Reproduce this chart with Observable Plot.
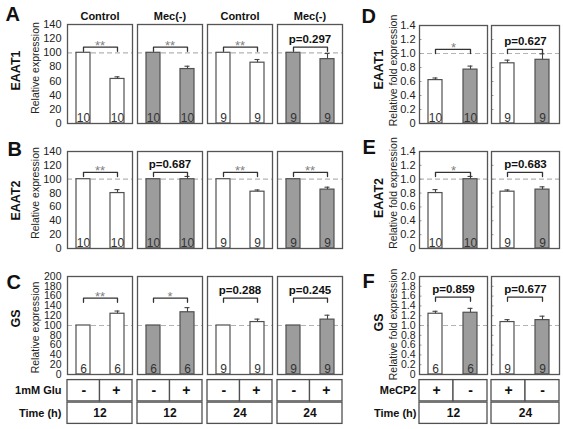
<!DOCTYPE html>
<html><head><meta charset="utf-8">
<script src="https://cdn.jsdelivr.net/npm/d3@7"></script>
<script src="https://cdn.jsdelivr.net/npm/@observablehq/plot@0.6"></script>
<style>
body{margin:0;background:#fff;}
#root{position:relative;width:563px;height:429px;overflow:hidden;background:#fff;}
</style></head><body><div id="root"></div>
<script>
// ---------- data ----------
const leftColumnKeys = ["c12", "m12", "c24", "m24"];
const leftColumnNames = ["Control", "Mec(-)", "Control", "Mec(-)"];
const leftTimes = ["12", "12", "24", "24"];
const gluLevels = ["-", "+"];
const leftGenes = ["EAAT1", "EAAT2", "GS"];
const leftLetters = ["A", "B", "C"];

const eaat1Values = [[100, 63], [100, 77], [100, 86], [100, 91]];
const eaat1Errors = [[0, 3], [0, 4], [0, 4.5], [0, 8]];
const eaat1Counts = [[10, 10], [10, 10], [9, 9], [9, 9]];
const eaat1Labels = ["**", "**", "**", "p=0.297"];

const eaat2Values = [[100, 80], [100, 100], [100, 82], [100, 85]];
const eaat2Errors = [[0, 5], [0, 4], [0, 2.5], [0, 3.5]];
const eaat2Counts = [[10, 10], [10, 10], [9, 9], [9, 9]];
const eaat2Labels = ["**", "p=0.687", "**", "**"];

const gsValues = [[100, 124], [100, 127], [100, 107], [100, 112]];
const gsErrors = [[0, 5.5], [0, 9.5], [0, 6], [0, 9]];
const gsCounts = [[6, 6], [6, 6], [9, 9], [9, 9]];
const gsLabels = ["**", "*", "p=0.288", "p=0.245"];

const leftBracketLevels = [108, 110, 156];
const leftYMax = [140, 140, 200];
const leftYTicks140 = [0, 20, 40, 60, 80, 100, 120, 140];
const leftYTicks200 = [0, 20, 40, 60, 80, 100, 120, 140, 160, 180, 200];

const rightColumnKeys = ["12", "24"];
const rightTimes = ["12", "24"];
const mecp2Levels = ["+", "-"];
const rightLetters = ["D", "E", "F"];

const eaat1FoldValues = [[0.62, 0.77], [0.86, 0.91]];
const eaat1FoldErrors = [[0.03, 0.05], [0.045, 0.085]];
const eaat1FoldCounts = [[10, 10], [9, 9]];
const eaat1FoldLabels = ["*", "p=0.627"];

const eaat2FoldValues = [[0.80, 1.00], [0.82, 0.85]];
const eaat2FoldErrors = [[0.05, 0.04], [0.025, 0.04]];
const eaat2FoldCounts = [[10, 10], [9, 9]];
const eaat2FoldLabels = ["*", "p=0.683"];

const gsFoldValues = [[1.24, 1.26], [1.07, 1.11]];
const gsFoldErrors = [[0.05, 0.09], [0.05, 0.08]];
const gsFoldCounts = [[6, 6], [9, 9]];
const gsFoldLabels = ["p=0.859", "p=0.677"];

const rightBracketLevels = [1.06, 1.10, 1.58];
const rightYMax = [1.4, 1.4, 2.0];
const rightYTicks14 = [0, 0.2, 0.4, 0.6, 0.8, 1.0, 1.2, 1.4];
const rightYTicks20 = [0, 0.2, 0.4, 0.6, 0.8, 1.0, 1.2, 1.4, 1.6, 1.8, 2.0];

// ---------- drawing ----------
const FONT = "Arial, 'Liberation Sans', Helvetica, sans-serif";
const root = document.getElementById("root");
function place(svg, left, top) {
  svg.style.position = "absolute";
  svg.style.left = left + "px";
  svg.style.top = top + "px";
  root.appendChild(svg);
}
function styleFor(fs) {
  return {fontFamily: FONT, fontSize: fs + "px", background: "none", color: "#222", overflow: "visible"};
}

function chartRow(cfg) {
  const keys = cfg.keys;
  const rows = [];
  keys.forEach((k, i) => cfg.values[i].forEach((v, j) => rows.push({
    col: k, bar: j, value: v, err: cfg.errors[i][j], n: String(cfg.counts[i][j]), fill: cfg.fillOf(i, j)
  })));
  const errRows = rows.filter(d => d.err > 0);
  const boxH = cfg.height - cfg.marginTop - cfg.marginBottom;
  const tick = cfg.bracketTickPx * cfg.yMax / boxH;
  const bracketPts = [];
  keys.forEach(k => {
    bracketPts.push({col: k, bar: 0, y: cfg.bracket - tick}, {col: k, bar: 0, y: cfg.bracket},
                    {col: k, bar: 1, y: cfg.bracket}, {col: k, bar: 1, y: cfg.bracket - tick});
  });
  const sig = keys.map((k, i) => ({col: k, label: cfg.labels[i], y: cfg.bracket}));
  const pRows = sig.filter(d => d.label.startsWith("p"));
  const starRows = sig.filter(d => !d.label.startsWith("p"));
  const first = [{col: keys[0]}];
  const marks = [
    Plot.ruleY([cfg.ref], {stroke: "#b4b4b4", strokeWidth: 1.2, strokeDasharray: "5,3"}),
  ];
  if (cfg.innerTicks) {
    marks.push(Plot.tickY(cfg.yTicks.slice(1, -1), {y: d => d, stroke: "#999", strokeWidth: 1, insetRight: cfg.boxW - 3}));
  }
  marks.push(
    Plot.barY(rows, {fx: "col", x: "bar", y: "value", fill: "fill", stroke: "#505050", strokeWidth: 1.2}),
    Plot.ruleX(errRows, {fx: "col", x: "bar", y1: "value", y2: d => d.value + d.err, stroke: "#444", strokeWidth: 1.1}),
    Plot.tickY(errRows, {fx: "col", x: "bar", y: d => d.value + d.err, stroke: "#444", strokeWidth: 1.1, insetLeft: 4.5, insetRight: 4.5}),
    Plot.line(bracketPts, {fx: "col", x: "bar", y: "y", z: "col", stroke: "#333", strokeWidth: 1.3}),
    Plot.text(pRows, {fx: "col", y: "y", text: "label", lineAnchor: "bottom", dy: -4, fontWeight: "bold", fontSize: 11.5, fill: "#111"}),
    Plot.text(starRows, {fx: "col", y: "y", text: "label", lineAnchor: "bottom", dy: 3, fontSize: 13, fill: "#808080"}),
    Plot.text(rows, {fx: "col", x: "bar", y: 0, text: "n", lineAnchor: "bottom", dy: -2, fontSize: 12, fill: "#333"}),
    Plot.frame({stroke: "#555", strokeWidth: 1.3}),
    Plot.text(first, {fx: "col", text: () => cfg.gene, frameAnchor: "left", textAnchor: "middle", rotate: -90, dx: cfg.geneDx, dy: cfg.geneDy, fontWeight: "bold", fontSize: 12.5, fill: "#111"}),
    Plot.text(first, {fx: "col", text: () => cfg.yLabel, frameAnchor: "left", textAnchor: "middle", rotate: -90, dx: cfg.yLabelDx, dy: cfg.yLabelDy, fontSize: 10.5, fill: "#222"}),
    Plot.text(first, {fx: "col", text: () => cfg.letter, frameAnchor: "top-left", textAnchor: "start", lineAnchor: "bottom", dx: cfg.letterDx, dy: cfg.letterDy, fontWeight: "bold", fontSize: 20, fill: "#111"})
  );
  if (cfg.headers) {
    const hdr = keys.map((k, i) => ({col: k, name: cfg.headers[i]}));
    marks.push(Plot.text(hdr, {fx: "col", text: "name", frameAnchor: "top", lineAnchor: "bottom", dy: -5, fontWeight: "bold", fontSize: 11, fill: "#111"}));
  }
  const svg = Plot.plot({
    width: cfg.width, height: cfg.height,
    marginLeft: cfg.marginLeft, marginRight: cfg.marginRight, marginTop: cfg.marginTop, marginBottom: cfg.marginBottom,
    style: styleFor(cfg.tickFont),
    fx: {domain: keys, paddingInner: cfg.fxPad, paddingOuter: 0, axis: null, label: null},
    x: {type: "band", domain: [0, 1], paddingInner: 0.59, paddingOuter: 0.25, axis: null},
    y: {domain: [0, cfg.yMax], ticks: cfg.yTicks, tickFormat: cfg.tickFormat, tickSize: 0, tickPadding: cfg.tickPadding, label: null},
    color: {domain: ["open", "filled"], range: ["#ffffff", "#9c9c9c"]},
    marks
  });
  place(svg, cfg.left, cfg.top);
}

function tableRow(cfg) {
  const keys = cfg.keys;
  const cells = [];
  keys.forEach((k, i) => {
    cfg.levels.forEach((lv, j) => cells.push({col: k, x1: j, x2: j + 1, y1: 0, y2: 1, t: lv, big: true}));
    cells.push({col: k, x1: 0, x2: 2, y1: 1, y2: 2, t: cfg.times[i], big: false});
  });
  const rowLabels = [{col: keys[0], y: 0.5, t: cfg.rowLabels[0]}, {col: keys[0], y: 1.5, t: cfg.rowLabels[1]}];
  const svg = Plot.plot({
    width: cfg.width, height: cfg.height,
    marginLeft: cfg.marginLeft, marginRight: cfg.marginRight, marginTop: cfg.marginTop, marginBottom: cfg.marginBottom,
    style: styleFor(10.5),
    fx: {domain: keys, paddingInner: cfg.fxPad, paddingOuter: 0, axis: null, label: null},
    x: {domain: [0, 2], axis: null},
    y: {domain: [0, 2], range: [cfg.marginTop, cfg.height - cfg.marginBottom], axis: null},
    marks: [
      Plot.rect(cells, {fx: "col", x1: "x1", x2: "x2", y1: "y1", y2: "y2", fill: "white", stroke: "#505050", strokeWidth: 1.3, insetTop: 0.6, insetBottom: 0.6}),
      Plot.text(cells.filter(d => d.big), {fx: "col", x: d => (d.x1 + d.x2) / 2, y: d => (d.y1 + d.y2) / 2, text: "t", fontWeight: "bold", fontSize: 14, fill: "#111"}),
      Plot.text(cells.filter(d => !d.big), {fx: "col", x: d => (d.x1 + d.x2) / 2, y: d => (d.y1 + d.y2) / 2, text: "t", fontWeight: "bold", fontSize: 12, fill: "#111"}),
      Plot.text(rowLabels, {fx: "col", x: 0, y: "y", text: "t", textAnchor: "end", dx: cfg.labelDx, fontWeight: "bold", fontSize: 11, fill: "#111"})
    ]
  });
  place(svg, cfg.left, cfg.top);
}

const fmtLeft = d => String(d);
const fmtRight = d => d === 0 ? "0" : d.toFixed(1);

// left block
const leftGeom = [
  {top: 0, marginTop: 24, height: 131, marginBottom: 8, geneDy: -3.5, yLabelDy: -6, letterDx: -62, letterDy: -4},
  {top: 130, marginTop: 21, height: 126, marginBottom: 8, geneDy: 0.5, yLabelDy: -7, letterDx: -60, letterDy: 4},
  {top: 256, marginTop: 20, height: 122, marginBottom: 4, geneDy: -7, yLabelDy: 2, letterDx: -61, letterDy: 12}
];
const leftSets = [
  [eaat1Values, eaat1Errors, eaat1Counts, eaat1Labels],
  [eaat2Values, eaat2Errors, eaat2Counts, eaat2Labels],
  [gsValues, gsErrors, gsCounts, gsLabels]
];
leftSets.forEach((s, r) => {
  const g = leftGeom[r];
  chartRow({
    left: 0, top: g.top, width: 347, height: g.height,
    marginLeft: 65, marginRight: 3, marginTop: g.marginTop, marginBottom: g.marginBottom,
    keys: leftColumnKeys, fxPad: 0.07, boxW: 66,
    values: s[0], errors: s[1], counts: s[2], labels: s[3],
    fillOf: (i, j) => (i % 2 === 0 ? "open" : "filled"),
    yMax: leftYMax[r], yTicks: leftYMax[r] === 200 ? leftYTicks200 : leftYTicks140,
    tickFormat: fmtLeft, tickPadding: 6, tickFont: leftYMax[r] === 200 ? 10.5 : 11, ref: 100,
    bracket: leftBracketLevels[r], bracketTickPx: 4.2,
    gene: leftGenes[r], geneDx: -52, geneDy: g.geneDy,
    yLabel: "Relative expression", yLabelDx: -32, yLabelDy: g.yLabelDy,
    letter: leftLetters[r], letterDx: g.letterDx, letterDy: g.letterDy,
    headers: r === 0 ? leftColumnNames : null, innerTicks: false
  });
});
tableRow({
  left: 0, top: 378, width: 347, height: 49,
  marginLeft: 65, marginRight: 3, marginTop: 1, marginBottom: 3,
  keys: leftColumnKeys, fxPad: 0.07, levels: gluLevels, times: leftTimes,
  rowLabels: ["1mM Glu", "Time (h)"], labelDx: -6
});

// right block
const rightGeom = [
  {top: 0, marginTop: 25, height: 131, marginBottom: 8, geneDy: -5, yLabelDy: -4, letterDx: -58, letterDy: -3},
  {top: 130, marginTop: 21, height: 126, marginBottom: 8, geneDy: -2, yLabelDy: -7, letterDx: -57, letterDy: 2},
  {top: 256, marginTop: 20, height: 122, marginBottom: 4, geneDy: -3, yLabelDy: -1, letterDx: -57, letterDy: 11}
];
const rightSets = [
  [eaat1FoldValues, eaat1FoldErrors, eaat1FoldCounts, eaat1FoldLabels],
  [eaat2FoldValues, eaat2FoldErrors, eaat2FoldCounts, eaat2FoldLabels],
  [gsFoldValues, gsFoldErrors, gsFoldCounts, gsFoldLabels]
];
rightSets.forEach((s, r) => {
  const g = rightGeom[r];
  chartRow({
    left: 350, top: g.top, width: 213, height: g.height,
    marginLeft: 69, marginRight: 3, marginTop: g.marginTop, marginBottom: g.marginBottom,
    keys: rightColumnKeys, fxPad: 0.055, boxW: 68.5,
    values: s[0], errors: s[1], counts: s[2], labels: s[3],
    fillOf: (i, j) => (j === 0 ? "open" : "filled"),
    yMax: rightYMax[r], yTicks: rightYMax[r] === 2 ? rightYTicks20 : rightYTicks14,
    tickFormat: fmtRight, tickPadding: 4, tickFont: rightYMax[r] === 2 ? 10.5 : 11, ref: 1,
    bracket: rightBracketLevels[r], bracketTickPx: 4.2,
    gene: leftGenes[r], geneDx: -41, geneDy: g.geneDy,
    yLabel: "Relative fold expression", yLabelDx: -26, yLabelDy: g.yLabelDy,
    letter: rightLetters[r], letterDx: g.letterDx, letterDy: g.letterDy,
    headers: null, innerTicks: true
  });
});
tableRow({
  left: 350, top: 378, width: 213, height: 49,
  marginLeft: 69, marginRight: 3, marginTop: 1, marginBottom: 3,
  keys: rightColumnKeys, fxPad: 0.055, levels: mecp2Levels, times: rightTimes,
  rowLabels: ["MeCP2", "Time (h)"], labelDx: -3
});
</script>
</body></html>
